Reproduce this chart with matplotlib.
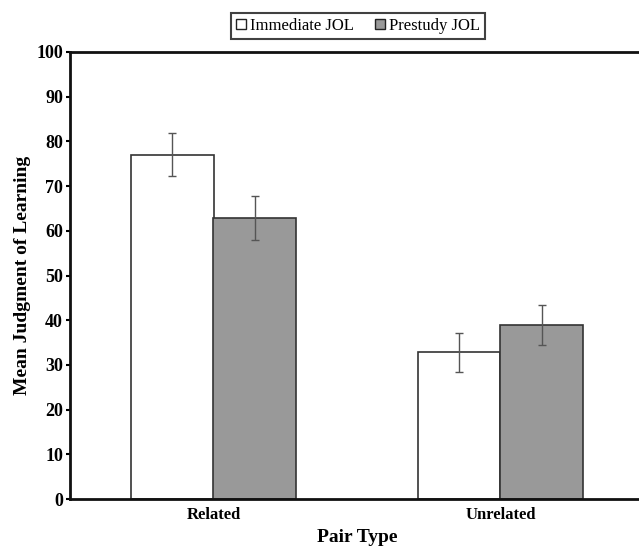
import numpy as np
import matplotlib.pyplot as plt
from matplotlib.patches import Patch

plt.rcParams['font.family'] = ['Liberation Serif', 'DejaVu Serif']

# data
pair_types = ['Related', 'Unrelated']
immediate = [77.0, 32.8]
immediate_err = [4.8, 4.4]
prestudy = [62.8, 38.9]
prestudy_err = [4.9, 4.5]

fig = plt.figure(figsize=(6.39, 5.51), dpi=100)
ax = fig.add_axes([70 / 639, 52 / 551, 574 / 639, 447 / 551])

x = np.arange(len(pair_types))
w = 0.286
ekw = dict(ecolor='#555555', elinewidth=1.0, capsize=3, capthick=1.0)
ax.bar(x - w / 2, immediate, w, color='white', edgecolor='#333333', linewidth=1.2,
       yerr=immediate_err, error_kw=ekw)
ax.bar(x + w / 2, prestudy, w, color='#999999', edgecolor='#333333', linewidth=1.2,
       yerr=prestudy_err, error_kw=ekw)

ax.set_xlim(-0.5, 1.5)
ax.set_ylim(0, 100)
ax.set_yticks(range(0, 101, 10))
ax.set_xticks(x)
ax.set_xticklabels(pair_types, fontsize=12, fontweight='bold')
ax.tick_params(axis='x', length=0, pad=6)
ax.tick_params(axis='y', direction='out', length=3, width=1.5, labelsize=13, pad=2)
for lab in ax.get_yticklabels():
    lab.set_fontweight('bold')
ax.spines['right'].set_visible(False)
for s in ['left', 'bottom', 'top']:
    ax.spines[s].set_linewidth(2)
    ax.spines[s].set_color('#111111')

ax.set_xlabel('Pair Type', fontsize=14, fontweight='bold', labelpad=4)
ax.set_ylabel('Mean Judgment of Learning', fontsize=14, fontweight='bold', labelpad=4)

handles = [Patch(facecolor='white', edgecolor='#222222', linewidth=1),
           Patch(facecolor='#999999', edgecolor='#222222', linewidth=1)]
leg = fig.legend(handles, ['Immediate JOL', 'Prestudy JOL'], loc='center',
                 bbox_to_anchor=(358 / 639, 1 - 26 / 551), ncol=2, fontsize=12,
                 frameon=True, fancybox=False, edgecolor='#111111',
                 handlelength=0.6, handleheight=0.6, handletextpad=0.2,
                 columnspacing=1.3, borderpad=0.3, borderaxespad=0)
leg.get_frame().set_linewidth(1.5)

fig.savefig('out.png', dpi=100)
